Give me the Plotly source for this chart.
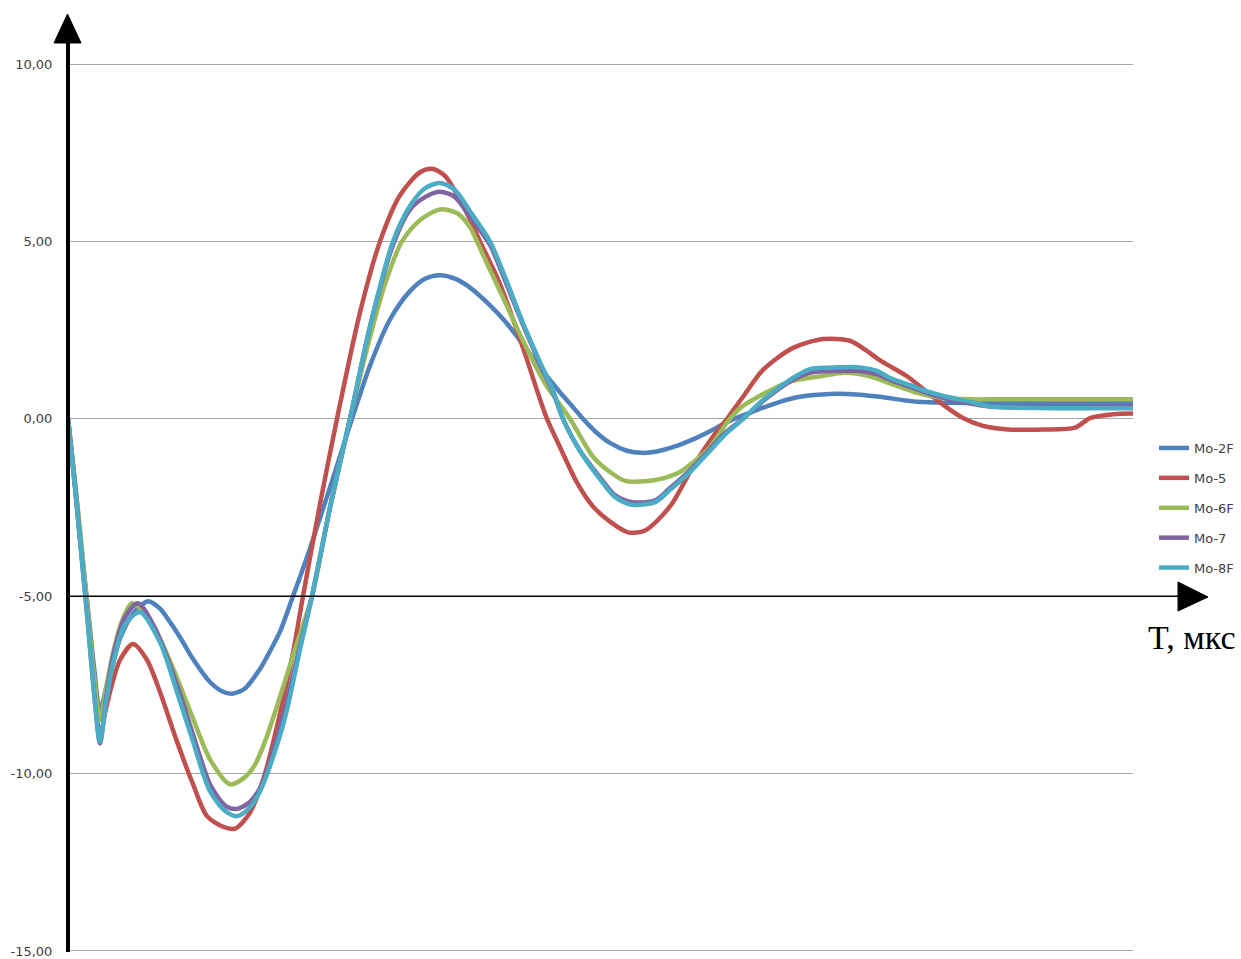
import numpy as np
import plotly.graph_objects as go

# Time in samples (1 sample = 0.02 us)
s_2f = [0, 5, 12, 19, 26, 32, 38, 45, 52, 65, 80, 92, 102, 114, 125, 142, 154, 164, 177, 192, 202, 212, 225, 239, 252, 267, 284, 302, 322, 342, 357, 372, 387, 402, 422, 437, 455, 472, 492, 505, 515, 527, 542, 559, 574, 589, 607, 625, 642, 662, 689, 712, 732, 762, 792, 812, 849, 882, 932, 982, 1032, 1065]
v_2f = [0, -1.35, -3.4, -5.1, -7.0, -8.25, -7.6, -6.9, -6.2, -5.5, -5.14, -5.35, -5.73, -6.25, -6.77, -7.42, -7.68, -7.75, -7.6, -7.05, -6.55, -6.0, -5.0, -3.9, -2.8, -1.5, 0, 1.5, 2.8, 3.6, 3.95, 4.05, 3.95, 3.7, 3.2, 2.75, 2.1, 1.45, 0.75, 0.33, 0, -0.35, -0.68, -0.9, -0.96, -0.92, -0.78, -0.58, -0.35, -0.05, 0.25, 0.48, 0.62, 0.7, 0.68, 0.62, 0.48, 0.45, 0.45, 0.45, 0.45, 0.45]

s_5 = [0, 7, 14, 20, 27, 32, 37, 42, 52, 65, 79, 92, 109, 125, 139, 155, 167, 182, 197, 212, 225, 235, 252, 269, 292, 312, 332, 352, 364, 377, 397, 412, 432, 455, 472, 479, 492, 509, 525, 542, 560, 577, 602, 625, 645, 659, 677, 695, 725, 755, 782, 797, 812, 839, 857, 875, 895, 915, 940, 975, 1007, 1022, 1045, 1065]
v_5 = [0, -1.8, -3.8, -5.6, -7.8, -9.0, -8.3, -7.7, -6.8, -6.35, -6.8, -7.7, -9.1, -10.3, -11.2, -11.5, -11.55, -11.1, -10.0, -8.3, -6.6, -5.0, -2.4, 0, 3.0, 5.0, 6.3, 6.95, 7.05, 6.85, 5.9, 5.0, 3.8, 2.0, 0.55, 0, -0.8, -1.8, -2.47, -2.9, -3.2, -3.15, -2.47, -1.35, -0.5, 0, 0.7, 1.38, 2.0, 2.25, 2.2, 1.95, 1.65, 1.2, 0.8, 0.4, 0.02, -0.2, -0.3, -0.3, -0.25, 0.02, 0.13, 0.15]

s_6f = [0, 7, 14, 20, 27, 32, 38, 45, 54, 64, 77, 92, 109, 125, 142, 162, 177, 187, 197, 209, 227, 244, 262, 282, 302, 317, 334, 352, 372, 389, 402, 409, 422, 437, 455, 477, 502, 525, 542, 557, 572, 592, 612, 625, 642, 659, 672, 692, 722, 752, 777, 802, 822, 847, 872, 902, 932, 982, 1032, 1065]
v_6f = [0, -1.8, -3.7, -5.5, -7.5, -8.5, -7.6, -6.6, -5.7, -5.2, -5.5, -6.2, -7.3, -8.45, -9.6, -10.3, -10.1, -9.75, -9.1, -8.1, -6.5, -5.0, -2.5, 0, 2.3, 3.8, 5.0, 5.6, 5.9, 5.8, 5.4, 5.0, 4.2, 3.3, 2.2, 1.0, 0, -1.07, -1.5, -1.75, -1.77, -1.7, -1.5, -1.23, -0.8, -0.1, 0.3, 0.65, 1.05, 1.2, 1.3, 1.2, 1.0, 0.75, 0.6, 0.55, 0.55, 0.55, 0.55, 0.55]

s_7 = [0, 7, 14, 20, 27, 32, 38, 45, 57, 70, 87, 109, 125, 142, 157, 168, 182, 194, 209, 222, 232, 244, 262, 282, 302, 325, 342, 357, 372, 387, 402, 422, 437, 455, 472, 485, 495, 512, 532, 547, 564, 587, 602, 622, 642, 655, 675, 695, 722, 742, 772, 792, 809, 822, 842, 862, 882, 899, 922, 1065]
v_7 = [0, -1.9, -4.0, -5.8, -8.0, -9.15, -7.9, -6.7, -5.6, -5.2, -5.9, -7.5, -8.9, -10.3, -10.9, -11.0, -10.8, -10.3, -9.0, -7.6, -6.4, -5.0, -2.5, 0, 2.6, 4.9, 5.9, 6.25, 6.4, 6.25, 5.7, 4.9, 3.9, 2.65, 1.55, 0.75, 0, -0.9, -1.65, -2.15, -2.35, -2.3, -1.95, -1.45, -0.85, -0.45, 0, 0.5, 1.05, 1.3, 1.35, 1.35, 1.25, 1.1, 0.9, 0.7, 0.55, 0.45, 0.35, 0.35]

s_8f = [0, 7, 14, 20, 27, 32, 38, 45, 57, 72, 92, 109, 125, 142, 157, 169, 182, 192, 209, 219, 232, 244, 262, 282, 302, 325, 342, 357, 372, 387, 402, 422, 437, 455, 472, 485, 495, 512, 532, 547, 564, 587, 602, 622, 642, 655, 675, 695, 722, 742, 772, 792, 809, 822, 842, 862, 882, 899, 922, 982, 1032, 1065]
v_8f = [0, -1.9, -4.0, -5.8, -8.0, -9.1, -8.0, -6.9, -5.8, -5.45, -6.3, -7.7, -9.1, -10.5, -11.05, -11.2, -10.95, -10.5, -9.2, -8.2, -6.5, -5.0, -2.5, 0, 2.6, 5.0, 6.0, 6.5, 6.65, 6.45, 5.85, 5.0, 4.0, 2.7, 1.6, 0.8, 0, -0.9, -1.7, -2.2, -2.42, -2.35, -2.0, -1.5, -0.9, -0.5, 0, 0.53, 1.1, 1.4, 1.45, 1.45, 1.35, 1.15, 0.95, 0.75, 0.6, 0.5, 0.35, 0.3, 0.3, 0.3]

names = ["Mo-2F", "Mo-5", "Mo-6F", "Mo-7", "Mo-8F"]
colors = ["#4F81BD", "#C0504D", "#9BBB59", "#8064A2", "#4BACC6"]
samples = [s_2f, s_5, s_6f, s_7, s_8f]
values = [v_2f, v_5, v_6f, v_7, v_8f]

y_ticks = [10, 5, 0, -5, -10, -15]
y_ticktext = ["10,00", "5,00", "0,00", "-5,00", "-10,00", "-15,00"]

DT = 0.02  # us per sample
X_MAX = 1065 * DT

fig = go.Figure()
for n, c, s, v in zip(names, colors, samples, values):
    fig.add_trace(go.Scatter(
        x=np.array(s) * DT, y=v, mode="lines", name=n, legendgroup=n,
        line=dict(color=c, width=4.5, shape="spline", smoothing=0.8),
    ))

W, H = 1241, 959
L, R, T, B = 68, 108, 63, 7
PW, PH = W - L - R, H - T - B


def px(xp):
    return (xp - L) / PW


def py(yp):
    return (H - B - yp) / PH


shapes = [
    # x axis at -5 with arrow
    dict(type="line", xref="paper", yref="y", x0=0, x1=px(1182), y0=-5, y1=-5,
         line=dict(color="black", width=1.5), layer="above"),
    dict(type="path", xref="paper", yref="paper",
         path=f"M {px(1178)},{py(582)} L {px(1208)},{py(597)} L {px(1178)},{py(611)} Z",
         fillcolor="black", line=dict(color="black", width=1), layer="above"),
    # y axis with arrow
    dict(type="line", xref="paper", yref="paper", x0=0, x1=0, y0=0, y1=py(42),
         line=dict(color="black", width=4), layer="above"),
    dict(type="path", xref="paper", yref="paper",
         path=f"M {px(54)},{py(43)} L {px(67.5)},{py(14)} L {px(81)},{py(43)} Z",
         fillcolor="black", line=dict(color="black", width=1), layer="above"),
]

fig.update_layout(
    width=W, height=H,
    margin=dict(l=L, r=R, t=T, b=B, pad=0, autoexpand=False),
    paper_bgcolor="white", plot_bgcolor="white",
    font=dict(family="DejaVu Sans", size=13, color="#404040"),
    showlegend=True,
    legend=dict(x=px(1154), y=py(433), xanchor="left", yanchor="top",
                font=dict(family="DejaVu Sans", size=13, color="#404040"),
                tracegroupgap=10, bgcolor="rgba(0,0,0,0)", itemwidth=30),
    xaxis=dict(range=[0, X_MAX], showgrid=False, zeroline=False,
               showticklabels=False, showline=False, ticks="", automargin=False),
    yaxis=dict(range=[-15.03, 10.03], tickvals=y_ticks, ticktext=y_ticktext,
               showgrid=True, gridcolor="#a6a6a6", gridwidth=1, automargin=False,
               zeroline=False, showline=False, ticks="outside", ticklen=12,
               tickcolor="rgba(0,0,0,0)", tickfont=dict(size=13, color="#404040")),
    shapes=shapes,
    annotations=[dict(text="T, мкс", xref="paper", yref="paper",
                      x=px(1192), y=py(637), xanchor="center", yanchor="middle",
                      showarrow=False,
                      font=dict(family="Liberation Serif", size=34, color="black"))],
)

fig.write_html("out.html", config={"displayModeBar": False},
               post_script="document.body.style.margin='0px';document.body.style.overflow='hidden';")
